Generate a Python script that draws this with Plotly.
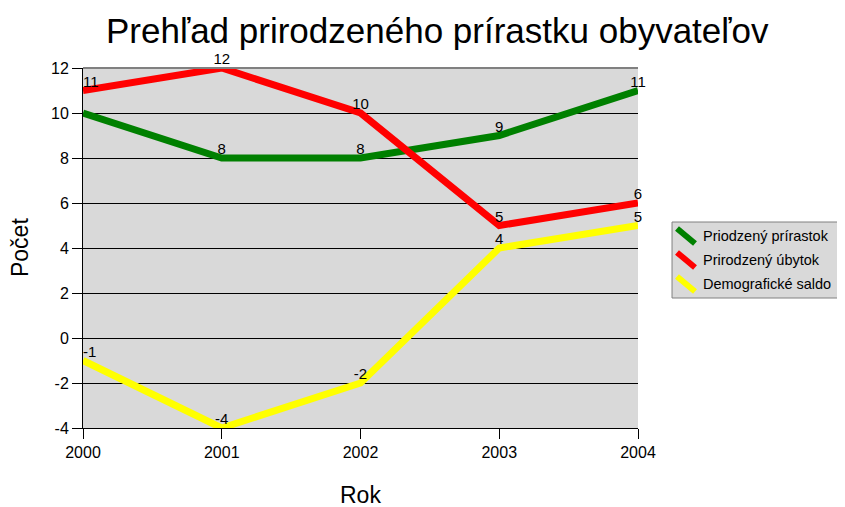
import plotly.graph_objects as go

years = [2000, 2001, 2002, 2003, 2004]
prirastok = [10, 8, 8, 9, 11]
ubytok = [11, 12, 10, 5, 6]
saldo = [-1, -4, -2, 4, 5]
prirastok_labels = ["", "8", "8", "9", "11"]
ubytok_labels = [str(v) for v in ubytok]
saldo_labels = [str(v) for v in saldo]
y_ticks = [-4, -2, 0, 2, 4, 6, 8, 10, 12]
y_ticktext = [str(v) for v in y_ticks]
x_ticktext = [str(v) for v in years]

series = [
    ("Priodzený prírastok", prirastok, prirastok_labels, "#008000"),
    ("Prirodzený úbytok", ubytok, ubytok_labels, "#FF0000"),
    ("Demografické saldo", saldo, saldo_labels, "#FFFF00"),
]

positions = ["top right", "top center", "top center", "top center", "top center"]
FONT = "Arial, Liberation Sans, sans-serif"

fig = go.Figure()
for name, vals, labels, color in series:
    fig.add_trace(go.Scatter(
        x=years, y=vals, name=name, mode="lines+text",
        line=dict(color=color, width=7),
        text=labels, textposition=positions,
        textfont=dict(family=FONT, size=15, color="black"),
        cliponaxis=False, showlegend=False,
    ))

fig.update_layout(
    width=845, height=507,
    margin=dict(l=75, r=215, t=60, b=87),
    paper_bgcolor="white",
    plot_bgcolor="#D9D9D9",
    font=dict(family=FONT, color="black"),
    title=dict(text="Prehľad prirodzeného prírastku obyvateľov",
               x=0.508, xanchor="center", y=0.955, yanchor="middle",
               font=dict(size=35, color="black")),
)
fig.update_xaxes(
    range=[2000, 2004], tickvals=years, ticktext=x_ticktext, ticks="outside",
    ticklen=10, tickcolor="black", showline=True, linecolor="black", linewidth=1,
    showgrid=False, zeroline=False, tickfont=dict(size=16),
)
fig.update_yaxes(
    range=[-4, 12], tickvals=y_ticks, ticktext=y_ticktext, ticks="outside",
    ticklen=10, tickcolor="black", showline=True, linecolor="black", linewidth=1,
    showgrid=True, gridcolor="black", gridwidth=1, zeroline=False,
    tickfont=dict(size=16),
)
# top border of plot area
fig.add_shape(type="line", xref="paper", yref="paper", x0=0, x1=1, y0=1, y1=1,
              line=dict(color="#808080", width=2))

# axis titles
fig.add_annotation(text="Rok", xref="paper", yref="paper", x=0.5, y=-0.186,
                   showarrow=False, xanchor="center", yanchor="middle",
                   font=dict(size=23))
fig.add_annotation(text="Počet", xref="paper", yref="paper", x=-0.1135, y=0.5,
                   showarrow=False, xanchor="center", yanchor="middle",
                   textangle=-90, font=dict(size=23))

# custom legend with diagonal symbols
fig.add_shape(type="rect", xref="paper", yref="paper",
              x0=1.0613, x1=1.38, y0=0.3611, y1=0.5722,
              fillcolor="#D9D9D9", line=dict(color="#808080", width=1))
row_y = [0.5333, 0.4667, 0.4]
for (name, vals, labels, color), ry in zip(series, row_y):
    fig.add_shape(type="line", xref="paper", yref="paper",
                  x0=1.0703, x1=1.1027, y0=ry + 0.021, y1=ry - 0.021,
                  line=dict(color=color, width=6))
    fig.add_annotation(text=name, xref="paper", yref="paper", x=1.1135, y=ry,
                       showarrow=False, xanchor="left", yanchor="middle",
                       font=dict(size=14.5))

fig.write_html("out.html")
